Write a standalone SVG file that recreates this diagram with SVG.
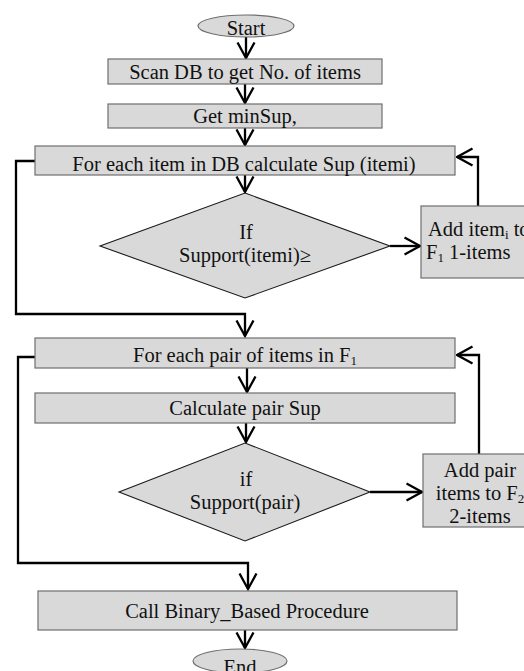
<svg xmlns="http://www.w3.org/2000/svg" width="524" height="671" viewBox="0 0 524 671">
<style>
.box{fill:#d9d9d9;stroke:#6e6e6e;stroke-width:1.2}
.dia{fill:#d9d9d9;stroke:#1a1a1a;stroke-width:1.1}
text{font-family:'Liberation Serif','Times New Roman','DejaVu Serif',serif;font-size:20.5px;fill:#111}
.m{text-anchor:middle}
.c{fill:none;stroke:#000;stroke-width:2.3;stroke-linejoin:miter}
.sub{font-size:13px}
</style>
<defs>
<marker id="ah" viewBox="0 0 18 20" refX="16.5" refY="10" markerWidth="18" markerHeight="20" markerUnits="userSpaceOnUse" orient="auto">
<path d="M1,1.5 L16.5,10 L1,18.5" fill="none" stroke="#000" stroke-width="2.3"/>
</marker>
</defs>
<rect width="524" height="671" fill="#fff"/>
<g id="connectors">
<path class="c" d="M246,37 L246,58" marker-end="url(#ah)"/>
<path class="c" d="M245,84 L245,103" marker-end="url(#ah)"/>
<path class="c" d="M245,128 L245,145" marker-end="url(#ah)"/>
<path class="c" d="M245,175 L245,192" marker-end="url(#ah)"/>
<path class="c" d="M390,246 L420,246" marker-end="url(#ah)"/>
<path class="c" d="M478,206 L478,157 L457,157" marker-end="url(#ah)"/>
<path class="c" d="M35,161 L16,161 L16,314 L245,314 L245,336" marker-end="url(#ah)"/>
<path class="c" d="M247,368 L247,392" marker-end="url(#ah)"/>
<path class="c" d="M246,423 L246,442" marker-end="url(#ah)"/>
<path class="c" d="M370,492 L422,492" marker-end="url(#ah)"/>
<path class="c" d="M479,454 L479,355 L457,355" marker-end="url(#ah)"/>
<path class="c" d="M35,357 L18,357 L18,563 L248,563 L248,589" marker-end="url(#ah)"/>
<path class="c" d="M245,630 L245,648" marker-end="url(#ah)"/>
</g>
<g id="start">
<ellipse class="box" cx="246" cy="26" rx="48" ry="11"/>
<text class="m" x="246" y="35">Start</text>
</g>
<g id="scan">
<rect class="box" x="108" y="59" width="274" height="25"/>
<text class="m" x="245" y="79">Scan DB to get No. of items</text>
</g>
<g id="minsup">
<rect class="box" x="108" y="104" width="274" height="24"/>
<text class="m" x="245" y="123">Get minSup,</text>
</g>
<g id="foreach-item">
<rect class="box" x="35" y="146" width="420" height="29"/>
<text class="m" x="244" y="171">For each item in DB calculate Sup (itemi)</text>
</g>
<g id="if-item">
<polygon class="dia" points="245,193 390,246 245,298 100,246"/>
<text class="m" x="246" y="239">If</text>
<text class="m" x="245" y="262">Support(itemi)≥</text>
</g>
<g id="add-item">
<rect class="box" x="421" y="206" width="120" height="72"/>
<text x="428" y="235.5">Add item<tspan class="sub" dy="3">i</tspan><tspan dy="-3"> to</tspan></text>
<text x="426" y="258.5">F<tspan class="sub" dy="3">1</tspan><tspan dy="-3"> 1-items</tspan></text>
</g>
<g id="foreach-pair">
<rect class="box" x="35" y="338" width="420" height="30"/>
<text class="m" x="245" y="362">For each pair of items in F<tspan class="sub" dy="3">1</tspan></text>
</g>
<g id="calc-pair">
<rect class="box" x="35" y="393" width="420" height="30"/>
<text class="m" x="245" y="415">Calculate pair Sup</text>
</g>
<g id="if-pair">
<polygon class="dia" points="245,443 370,492 245,541 119,492"/>
<text class="m" x="246" y="486">if</text>
<text class="m" x="245" y="509">Support(pair)</text>
</g>
<g id="add-pair">
<rect class="box" x="423" y="454" width="120" height="73"/>
<text class="m" x="480" y="477">Add pair</text>
<text class="m" x="480" y="500">items to F<tspan class="sub" dy="3">2</tspan></text>
<text class="m" x="480" y="523">2-items</text>
</g>
<g id="call-binary">
<rect class="box" x="38" y="591" width="419" height="39"/>
<text class="m" x="247" y="618">Call Binary_Based Procedure</text>
</g>
<g id="end">
<ellipse class="box" cx="240" cy="661" rx="47" ry="12"/>
<text class="m" x="240" y="674">End</text>
</g>
</svg>
